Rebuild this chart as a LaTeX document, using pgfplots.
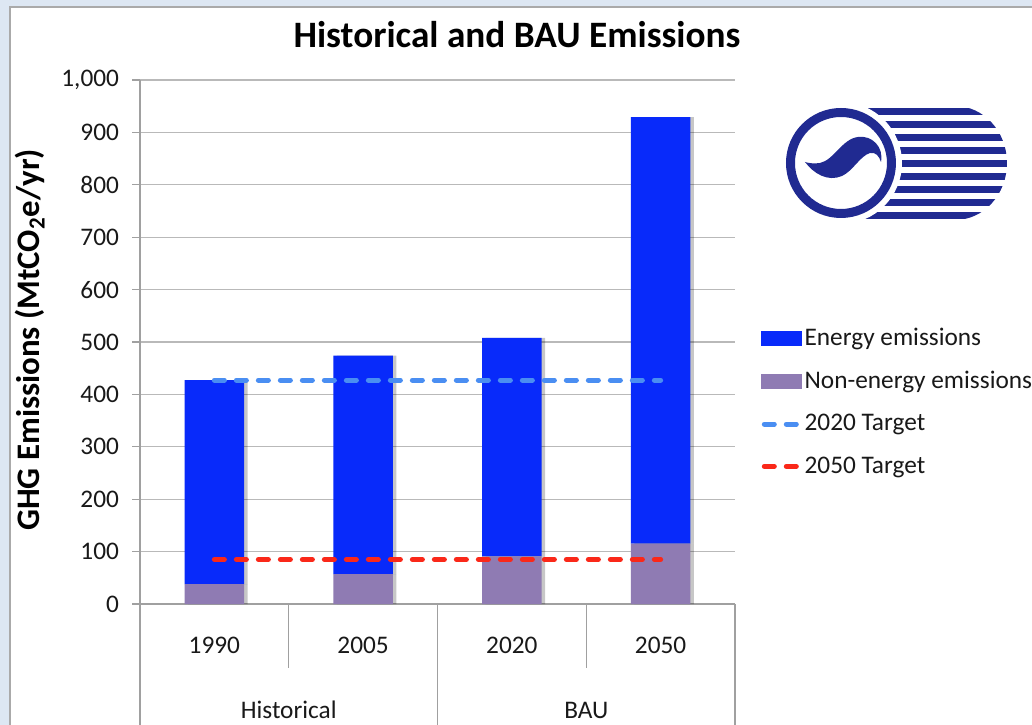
\documentclass[border=0pt]{standalone}
\usepackage{pgfplots}
\pgfplotsset{compat=1.18}
\usepackage{pgfplotstable}
\usepackage{fontspec}
\setmainfont{Carlito}
\usetikzlibrary{shadows}
\definecolor{energy}{RGB}{8,42,250}
\definecolor{nonenergy}{RGB}{143,123,179}
\definecolor{tgtA}{RGB}{74,142,242}
\definecolor{tgtB}{RGB}{250,40,25}
\definecolor{logoblue}{RGB}{32,42,145}
\definecolor{bgblue}{RGB}{221,231,243}
\definecolor{framegray}{RGB}{170,170,170}
\definecolor{gridgray}{RGB}{185,185,185}
\definecolor{axisgray}{RGB}{160,160,160}
\definecolor{txt}{RGB}{25,25,25}

\pgfplotstableread{
x nonenergy energy
0 38 389
1 57 417
2 91 417
3 115 814
}\bars

\pgfplotstableread{
x t2020 t2050
0 427 85
3 427 85
}\targets

\begin{document}
\begin{tikzpicture}
\fill[bgblue] (0,0) rectangle (516bp,362.5bp);
\useasboundingbox (0,0) rectangle (516bp,362.5bp);
\begin{scope}[x=0.5bp,y=-0.5bp,shift={(0bp,362.5bp)}]
  \fill[white] (10,7) rectangle (1040,730);
  \draw[framegray, line width=0.8bp] (10,730) -- (10,7) -- (1040,7);
  \node[anchor=center, inner sep=0pt, font=\bfseries\fontsize{18.7}{22}\selectfont, text=black] at (517,35) {Historical and BAU Emissions};
  % logo
  \begin{scope}
    \clip (841,106) -- (955,106) arc[start angle=-90,end angle=90,x radius=52,y radius=57] -- (841,220) -- cycle;
    \foreach \i in {0,...,8} \fill[logoblue] (830,{108+13*\i}) rectangle (1012,{115.5+13*\i});
  \end{scope}
  \fill[white] (841,163) circle[radius=61];
  \fill[logoblue,even odd rule] (841,163) circle[radius=55] (841,163) circle[radius=46];
  \fill[logoblue] (805,162) .. controls (814,174) and (828,182) .. (842,176)
     .. controls (853,171) and (860,156) .. (870,153)
     .. controls (876,152) and (879,156) .. (881,162)
     .. controls (884,147) and (872,135) .. (858,137)
     .. controls (842,139) and (834,160) .. (820,163)
     .. controls (814,164) and (808,163) .. (805,162) -- cycle;
\end{scope}

\begin{axis}[
  at={(70bp,60.5bp)}, anchor=south west,
  scale only axis, width=297.5bp, height=262bp,
  xmin=-0.5, xmax=3.5, ymin=0, ymax=1000,
  clip=false,
  ybar stacked, bar width=0.4,
  xtick={0,1,2,3}, xticklabels={1990,2005,2020,2050},
  ytick={0,100,...,1000},
  ymajorgrids, grid style={gridgray, line width=0.6bp},
  axis x line*=bottom, axis y line*=left,
  axis line style={axisgray, line width=0.6bp, -},
  xtick style={draw=none},
  ytick style={axisgray, line width=0.6bp},
  tick align=outside, major tick length=4bp,
  /pgf/number format/1000 sep={,},
  /pgf/number format/assume math mode=true,
  ticklabel style={font=\fontsize{12.7}{15}\selectfont, text=txt},
  yticklabel style={xshift=-3bp},
  xticklabel style={anchor=center, yshift=-16.5bp},
  ylabel={GHG Emissions (MtCO\textsubscript{2}e/yr)},
  ylabel style={at={(axis description cs:-0.185,0.504)}, anchor=center, font=\bfseries\fontsize{16.5}{19}\selectfont, text=black},
]
\addplot[fill=nonenergy, draw=none, drop shadow={shadow xshift=1.8bp, shadow yshift=0bp, opacity=0.22, fill=black}] table[x=x, y=nonenergy] {\bars};
\addplot[fill=energy, draw=none, drop shadow={shadow xshift=1.8bp, shadow yshift=0bp, opacity=0.22, fill=black}] table[x=x, y=energy] {\bars};
\draw[axisgray, line width=0.6bp] (axis cs:-0.5,0) -- ++(0bp,-60.5bp);
\draw[axisgray, line width=0.6bp] (axis cs:1.5,0) -- ++(0bp,-60.5bp);
\draw[axisgray, line width=0.6bp] (axis cs:3.5,0) -- ++(0bp,-60.5bp);
\draw[axisgray, line width=0.6bp] (axis cs:0.5,0) -- ++(0bp,-32bp);
\draw[axisgray, line width=0.6bp] (axis cs:2.5,0) -- ++(0bp,-32bp);
\node[font=\fontsize{12.7}{15}\selectfont, text=txt] at ([yshift=-53bp]axis cs:0.5,0) {Historical};
\node[font=\fontsize{12.7}{15}\selectfont, text=txt] at ([yshift=-53bp]axis cs:2.5,0) {BAU};
\end{axis}

\begin{axis}[
  at={(70bp,60.5bp)}, anchor=south west,
  scale only axis, width=297.5bp, height=262bp,
  xmin=-0.5, xmax=3.5, ymin=0, ymax=1000,
  hide axis, clip=false,
  legend style={at={(axis description cs:1.0437,0.532)}, anchor=north west, draw=none, fill=none,
    inner sep=0pt, font=\fontsize{12.7}{15}\selectfont, text=txt, row sep=9bp,
    nodes={inner sep=1.2bp}},
  legend cell align=left,
]
\addplot[forget plot, tgtA, line width=2.5bp, line cap=round, dash pattern=on 5bp off 6bp] table[x=x, y=t2020] {\targets};
\addplot[forget plot, tgtB, line width=2.5bp, line cap=round, dash pattern=on 5bp off 6bp] table[x=x, y=t2050] {\targets};
\addlegendimage{legend image code/.code={\fill[energy] (0bp,-3.5bp) rectangle (20bp,3.5bp);}}
\addlegendentry{Energy emissions}
\addlegendimage{legend image code/.code={\fill[nonenergy] (0bp,-3.5bp) rectangle (20bp,3.5bp);}}
\addlegendentry{Non-energy emissions}
\addlegendimage{legend image code/.code={\draw[tgtA, line width=2.5bp, line cap=round, dash pattern=on 5bp off 6bp] (1.25bp,0) -- (18.75bp,0);}}
\addlegendentry{2020 Target}
\addlegendimage{legend image code/.code={\draw[tgtB, line width=2.5bp, line cap=round, dash pattern=on 5bp off 6bp] (1.25bp,0) -- (18.75bp,0);}}
\addlegendentry{2050 Target}
\end{axis}
\end{tikzpicture}
\end{document}
